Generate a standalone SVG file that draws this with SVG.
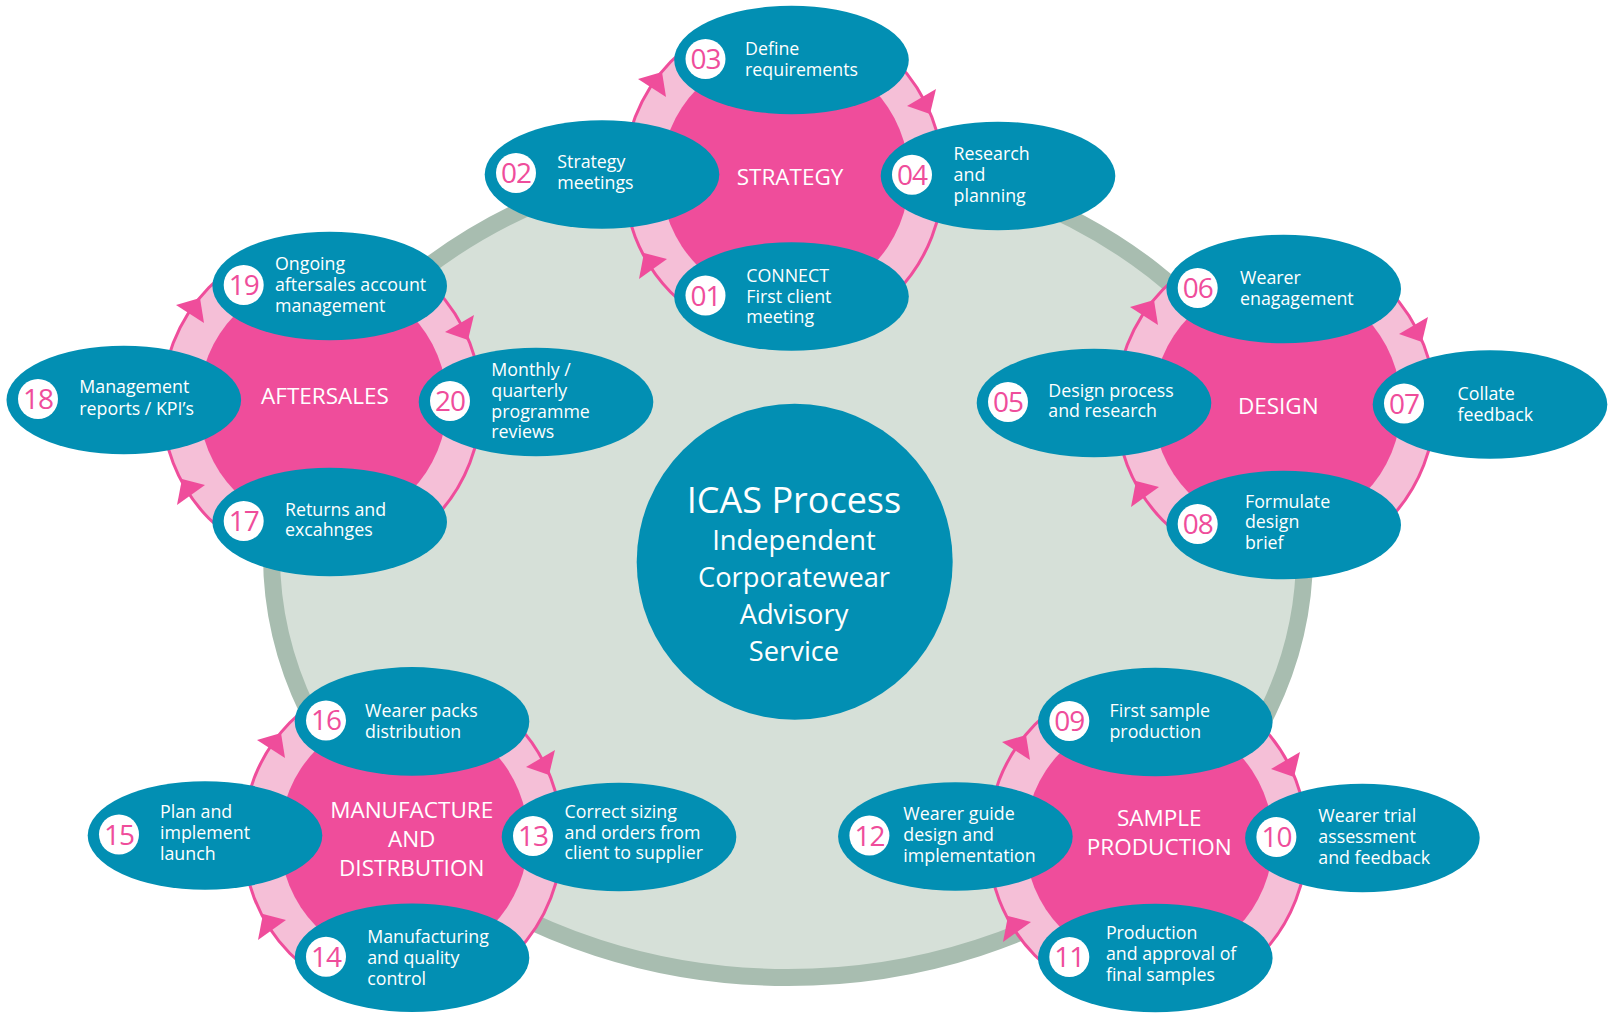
<svg xmlns="http://www.w3.org/2000/svg" width="1616" height="1020" viewBox="0 0 1616 1020">
<style>
text{font-family:"Open Sans","Noto Sans",sans-serif;fill:#fff}
.e{fill:#028fb3}
.d{fill:#fff}
.n{font-size:28px;fill:#ef4d9b;text-anchor:middle;letter-spacing:-1px}
.l{font-size:17.8px;transform:translateX(-.7px)}
.h{font-size:22.5px;text-anchor:middle}
.c1{font-size:36px;text-anchor:middle}
.c2{font-size:27.3px;text-anchor:middle}
.ring{fill:#f5bfd7;stroke:#ef4d9b;stroke-width:3}
.disc{fill:#ef4d9b}
.a{fill:#ef4d9b}
</style>
<defs>
<g id="arrows">
<polygon class="a" points="-148,-98 -120,-80 -124,-105"/>
<polygon class="a" points="150,-88 121,-71 144,-63"/>
<polygon class="a" points="-147,102 -119,82 -142,76"/>
</g>
<ellipse id="oval" class="e" rx="117.3" ry="54.3"/>
</defs>
<rect width="1616" height="1020" fill="#fff"/>
<g id="field">
<path d="M271.5 555A516.5 402.5 0 0 1 1304.5 555A516.5 422.5 0 0 1 271.5 555Z" fill="#d6e0d8" stroke="#a8bdb0" stroke-width="17"/>
</g>
<g id="centre">
<circle class="e" cx="794.7" cy="561.7" r="158"/>
<text class="c1" x="794" y="513">ICAS Process</text>
<text class="c2" x="794" y="550">Independent</text>
<text class="c2" x="794" y="587">Corporatewear</text>
<text class="c2" x="794" y="624">Advisory</text>
<text class="c2" x="794" y="660.7">Service</text>
</g>
<g id="rings">
<ellipse class="ring" cx="783.5" cy="177" rx="159.5" ry="163"/>
<ellipse class="ring" cx="1275.5" cy="405" rx="159.5" ry="163"/>
<ellipse class="ring" cx="1147.5" cy="840" rx="159.5" ry="163"/>
<ellipse class="ring" cx="402.5" cy="838" rx="159.5" ry="163"/>
<ellipse class="ring" cx="321.5" cy="403" rx="159.5" ry="163"/>
</g>
<g id="connectors">
<use href="#arrows" transform="translate(786 177)"/>
<use href="#arrows" transform="translate(1278 405)"/>
<use href="#arrows" transform="translate(1150 840)"/>
<use href="#arrows" transform="translate(405 838)"/>
<use href="#arrows" transform="translate(324 403)"/>
</g>
<g id="hub-strategy"><ellipse class="disc" cx="785" cy="177" rx="124" ry="125"/><text class="h" x="790" y="185">STRATEGY</text></g>
<g id="hub-design"><ellipse class="disc" cx="1277" cy="405" rx="124" ry="125"/><text class="h" x="1278.3" y="414.3">DESIGN</text></g>
<g id="hub-sample"><ellipse class="disc" cx="1149" cy="840" rx="124" ry="125"/><text class="h" x="1159.3" y="826">SAMPLE</text><text class="h" x="1159.3" y="855">PRODUCTION</text></g>
<g id="hub-manufacture"><ellipse class="disc" cx="404" cy="838" rx="124" ry="125"/><text class="h" x="411.7" y="817.8">MANUFACTURE</text><text class="h" x="411.7" y="846.7">AND</text><text class="h" x="411.7" y="875.7">DISTRBUTION</text></g>
<g id="hub-aftersales"><ellipse class="disc" cx="323" cy="403" rx="124" ry="125"/><text class="h" x="325" y="403.5">AFTERSALES</text></g>

<g id="n01"><use href="#oval" x="791.5" y="296.5"/><circle class="d" cx="705.5" cy="295.5" r="20"/><text class="n" x="705.5" y="305.5">01</text><text class="l" x="747" y="281.7">CONNECT</text><text class="l" x="747" y="302.7">First client</text><text class="l" x="747" y="323.3">meeting</text></g>
<g id="n02"><use href="#oval" x="602" y="174.5"/><circle class="d" cx="516" cy="173" r="20"/><text class="n" x="516" y="183">02</text><text class="l" x="558" y="167.7">Strategy</text><text class="l" x="558" y="188.7">meetings</text></g>
<g id="n03"><use href="#oval" x="791.5" y="60"/><circle class="d" cx="705.5" cy="59" r="20"/><text class="n" x="705.5" y="69">03</text><text class="l" x="745.8" y="55">Define</text><text class="l" x="745.8" y="75.7">requirements</text></g>
<g id="n04"><use href="#oval" x="998" y="176"/><circle class="d" cx="912" cy="174.7" r="20"/><text class="n" x="912" y="184.7">04</text><text class="l" x="954.3" y="160">Research</text><text class="l" x="954.3" y="180.7">and</text><text class="l" x="954.3" y="201.7">planning</text></g>
<g id="n05"><use href="#oval" x="1094" y="403"/><circle class="d" cx="1008" cy="402" r="20"/><text class="n" x="1008" y="412">05</text><text class="l" x="1049" y="396.7">Design process</text><text class="l" x="1049" y="417">and research</text></g>
<g id="n06"><use href="#oval" x="1283.7" y="289"/><circle class="d" cx="1197.7" cy="288" r="20"/><text class="n" x="1197.7" y="298">06</text><text class="l" x="1240.7" y="284">Wearer</text><text class="l" x="1240.7" y="305">enagagement</text></g>
<g id="n07"><use href="#oval" x="1490" y="404.5"/><circle class="d" cx="1404" cy="403.5" r="20"/><text class="n" x="1404" y="413.5">07</text><text class="l" x="1458.3" y="400">Collate</text><text class="l" x="1458.3" y="421">feedback</text></g>
<g id="n08"><use href="#oval" x="1283.7" y="525"/><circle class="d" cx="1197.7" cy="524" r="20"/><text class="n" x="1197.7" y="534">08</text><text class="l" x="1245.7" y="507.6">Formulate</text><text class="l" x="1245.7" y="528.3">design</text><text class="l" x="1245.7" y="549">brief</text></g>
<g id="n09"><use href="#oval" x="1155.3" y="722"/><circle class="d" cx="1069.3" cy="721" r="20"/><text class="n" x="1069.3" y="731">09</text><text class="l" x="1110.2" y="717.2">First sample</text><text class="l" x="1110.2" y="738.2">production</text></g>
<g id="n10"><use href="#oval" x="1362.4" y="838"/><circle class="d" cx="1276.4" cy="837" r="20"/><text class="n" x="1276.4" y="847">10</text><text class="l" x="1319" y="822">Wearer trial</text><text class="l" x="1319" y="842.7">assessment</text><text class="l" x="1319" y="863.6">and feedback</text></g>
<g id="n11"><use href="#oval" x="1155.3" y="958"/><circle class="d" cx="1069.3" cy="957" r="20"/><text class="n" x="1069.3" y="967">11</text><text class="l" x="1106.6" y="939.3">Production</text><text class="l" x="1106.6" y="960">and approval of</text><text class="l" x="1106.6" y="981">final samples</text></g>
<g id="n12"><use href="#oval" x="955.4" y="836.5"/><circle class="d" cx="869.4" cy="835.5" r="20"/><text class="n" x="869.4" y="845.5">12</text><text class="l" x="904" y="820.4">Wearer guide</text><text class="l" x="904" y="841.3">design and</text><text class="l" x="904" y="862">implementation</text></g>
<g id="n13"><use href="#oval" x="619" y="837"/><circle class="d" cx="533" cy="836" r="20"/><text class="n" x="533" y="846">13</text><text class="l" x="565.3" y="817.7">Correct sizing</text><text class="l" x="565.3" y="838.7">and orders from</text><text class="l" x="565.3" y="859.4">client to supplier</text></g>
<g id="n14"><use href="#oval" x="412" y="957.7"/><circle class="d" cx="326" cy="956.7" r="20"/><text class="n" x="326" y="966.7">14</text><text class="l" x="367.9" y="942.7">Manufacturing</text><text class="l" x="367.9" y="964">and quality</text><text class="l" x="367.9" y="985">control</text></g>
<g id="n15"><use href="#oval" x="205" y="835.5"/><circle class="d" cx="119" cy="834.5" r="20"/><text class="n" x="119" y="844.5">15</text><text class="l" x="160.7" y="817.7">Plan and</text><text class="l" x="160.7" y="838.7">implement</text><text class="l" x="160.7" y="859.6">launch</text></g>
<g id="n16"><use href="#oval" x="412" y="721.4"/><circle class="d" cx="326" cy="720.4" r="20"/><text class="n" x="326" y="730.4">16</text><text class="l" x="365.8" y="716.7">Wearer packs</text><text class="l" x="365.8" y="737.6">distribution</text></g>
<g id="n17"><use href="#oval" x="329.7" y="522"/><circle class="d" cx="243.7" cy="521" r="20"/><text class="n" x="243.7" y="531">17</text><text class="l" x="285.7" y="515.7">Returns and</text><text class="l" x="285.7" y="536.4">excahnges</text></g>
<g id="n18"><use href="#oval" x="123.8" y="400"/><circle class="d" cx="38" cy="399" r="20"/><text class="n" x="38" y="409">18</text><text class="l" x="80" y="393.3">Management</text><text class="l" x="80" y="414.5">reports / KPI’s</text></g>
<g id="n19"><use href="#oval" x="329.7" y="286"/><circle class="d" cx="243.7" cy="285" r="20"/><text class="n" x="243.7" y="295">19</text><text class="l" x="275.7" y="270.2">Ongoing</text><text class="l" x="275.7" y="291">aftersales account</text><text class="l" x="275.7" y="311.7">management</text></g>
<g id="n20"><use href="#oval" x="536" y="402"/><circle class="d" cx="450" cy="401" r="20"/><text class="n" x="450" y="411">20</text><text class="l" x="492" y="376">Monthly /</text><text class="l" x="492" y="396.7">quarterly</text><text class="l" x="492" y="417.6">programme</text><text class="l" x="492" y="438.3">reviews</text></g>
</svg>
